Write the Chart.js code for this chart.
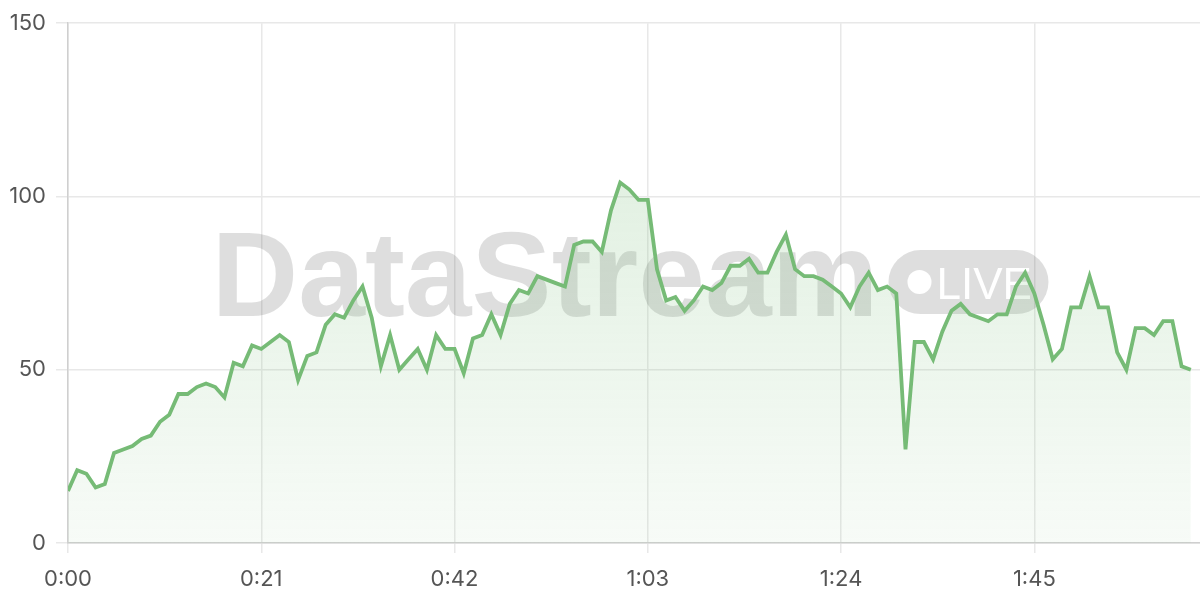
<!DOCTYPE html>
<html>
<head>
<meta charset="utf-8">
<script src="https://cdn.jsdelivr.net/npm/chart.js@4.4.1/dist/chart.umd.min.js"></script>
<style>
html, body { margin: 0; padding: 0; background: #fff; }
#wrap { width: 1200px; height: 600px; position: relative; }
</style>
</head>
<body>
<div id="wrap"><canvas id="myChart"></canvas></div>
<script>
// one reading per second, starting at 0:00
const values = [
    15, 21, 20, 16, 17, 26, 27, 28, 30, 31,
    35, 37, 43, 43, 45, 46, 45, 42, 52, 51,
    57, 56, 58, 60, 58, 47, 54, 55, 63, 66,
    65, 70, 74, 65, 51, 60, 50, 53, 56, 50,
    60, 56, 56, 49, 59, 60, 66, 60, 69, 73,
    72, 77, 76, 75, 74, 86, 87, 87, 84, 96,
    104, 102, 99, 99, 79, 70, 71, 67, 70, 74,
    73, 75, 80, 80, 82, 78, 78, 84, 89, 79,
    77, 77, 76, 74, 72, 68, 74, 78, 73, 74,
    72, 27, 58, 58, 53, 61, 67, 69, 66, 65,
    64, 66, 66, 74, 78, 72, 63, 53, 56, 68,
    68, 77, 68, 68, 55, 50, 62, 62, 60, 64,
    64, 51, 50
];
const xMaxSeconds = 123;
const xTickStep = 21;
const yMin = 0;
const yMax = 150;
const yTickStep = 50;
const watermarkText = 'DataStream';
const badgeText = 'LIVE';

function fmtTime(s) {
    const m = Math.floor(s / 60);
    const sec = s % 60;
    return m + ':' + String(sec).padStart(2, '0');
}

const points = values.map((v, i) => ({x: i, y: v}));

const watermark = {
    id: 'watermark',
    beforeDatasetsDraw(chart) {
        const ctx = chart.ctx;
        const a = chart.chartArea;
        ctx.save();
        ctx.font = 'bold 120px "Liberation Sans", Arial, sans-serif';
        const tw = ctx.measureText(watermarkText).width;
        const pillW = 160, pillH = 64, gap = 10;
        const total = tw + gap + pillW;
        const cx = (a.left + a.right) / 2;
        const cy = (a.top + a.bottom) / 2;
        const x = cx - total / 2 - 4;
        ctx.fillStyle = 'rgba(0,0,0,0.13)';
        ctx.textBaseline = 'alphabetic';
        ctx.fillText(watermarkText, x, cy + 33);

        const px = x + tw + gap;
        const py = cy - 33;
        ctx.beginPath();
        ctx.roundRect(px, py, pillW, pillH, pillH / 2);
        ctx.fill();

        ctx.fillStyle = '#ffffff';
        ctx.beginPath();
        ctx.arc(px + 31, py + pillH / 2, 12, 0, Math.PI * 2);
        ctx.fill();
        ctx.font = '44px "Liberation Sans", Arial, sans-serif';
        ctx.fillText(badgeText, px + 48, cy + 16);
        ctx.restore();
    }
};

const ctx = document.getElementById('myChart');
new Chart(ctx, {
    type: 'line',
    data: {
        datasets: [{
            label: 'Viewers',
            data: points,
            borderColor: '#76bb76',
            borderWidth: 3.8,
            pointRadius: 0,
            tension: 0,
            fill: 'origin',
            backgroundColor: (c) => {
                const area = c.chart.chartArea;
                if (!area) return 'rgba(120,188,120,0.12)';
                const g = c.chart.ctx.createLinearGradient(0, area.top, 0, area.bottom);
                g.addColorStop(0, 'rgba(120,188,120,0.28)');
                g.addColorStop(1, 'rgba(120,188,120,0.06)');
                return g;
            }
        }]
    },
    options: {
        responsive: true,
        maintainAspectRatio: false,
        animation: false,
        layout: { padding: { top: 20, right: 0, left: 0, bottom: 0 } },
        plugins: {
            legend: { display: false },
            tooltip: { enabled: false }
        },
        scales: {
            x: {
                type: 'linear',
                min: 0,
                max: xMaxSeconds,
                afterFit: (s) => { s.height = 57; },
                border: { color: '#cfcfcf', width: 1.5 },
                grid: { color: '#e8e8e8', tickLength: 10, lineWidth: 1.5 },
                ticks: {
                    stepSize: xTickStep,
                    includeBounds: false,
                    padding: 13,
                    color: '#555555',
                    font: { family: 'Inter', size: 22 },
                    callback: (v) => fmtTime(v)
                }
            },
            y: {
                min: yMin,
                max: yMax,
                afterFit: (s) => { s.width = 68; },
                border: { color: '#cfcfcf', width: 1.5 },
                grid: { color: '#e8e8e8', tickLength: 12, lineWidth: 1.5 },
                ticks: {
                    stepSize: yTickStep,
                    padding: 10,
                    color: '#555555',
                    font: { family: 'Inter', size: 22 }
                }
            }
        }
    },
    plugins: [watermark]
});
</script>
</body>
</html>
